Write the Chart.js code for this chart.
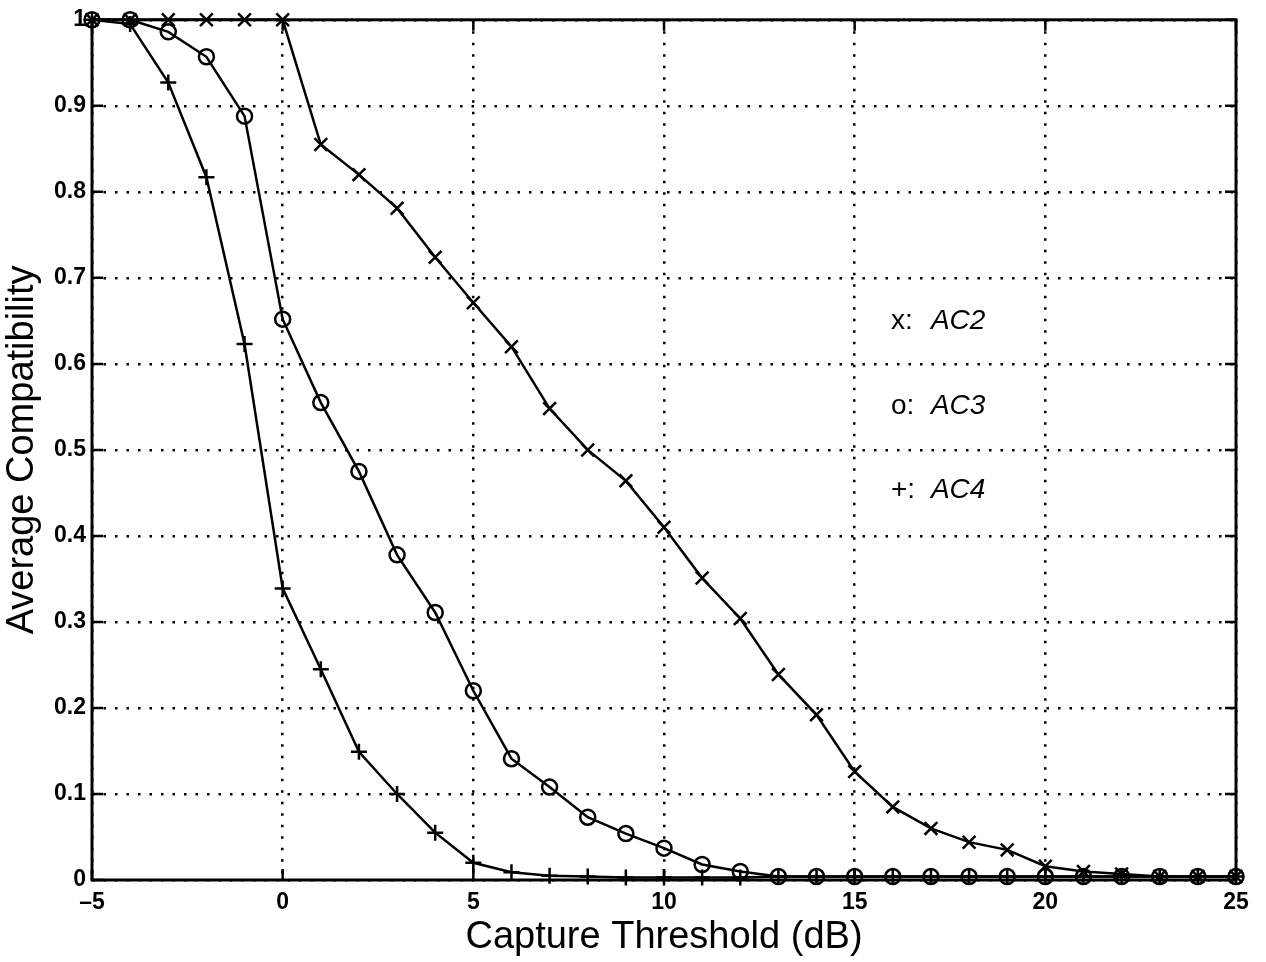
<!DOCTYPE html>
<html>
<head>
<meta charset="utf-8">
<script src="https://cdn.jsdelivr.net/npm/chart.js@4.4.1/dist/chart.umd.min.js"></script>
<style>
  html, body { margin: 0; padding: 0; background: #fff; }
  canvas { display: block; }
</style>
</head>
<body>
<canvas id="chart" width="1266" height="962"></canvas>
<script>
// capture threshold (dB)
const threshold = [-5, -4, -3, -2, -1, 0, 1, 2, 3, 4, 5, 6, 7, 8, 9, 10,
  11, 12, 13, 14, 15, 16, 17, 18, 19, 20, 21, 22, 23, 24, 25];

const ac2 = [1, 1, 1, 1, 1, 1, 0.855, 0.82, 0.781, 0.724, 0.671, 0.62, 0.548,
  0.5, 0.464, 0.41, 0.351, 0.304, 0.239, 0.192, 0.126, 0.085, 0.06, 0.044,
  0.035, 0.016, 0.01, 0.007, 0.004, 0.004, 0.004];

const ac3 = [1, 1, 0.986, 0.957, 0.888, 0.652, 0.555, 0.475, 0.378, 0.311,
  0.22, 0.141, 0.108, 0.073, 0.054, 0.037, 0.018, 0.01, 0.004, 0.004, 0.004,
  0.004, 0.004, 0.004, 0.004, 0.004, 0.004, 0.004, 0.004, 0.004, 0.004];

const ac4 = [1, 0.995, 0.927, 0.817, 0.623, 0.339, 0.245, 0.149, 0.1, 0.055,
  0.02, 0.009, 0.005, 0.004, 0.003, 0.003, 0.003, 0.003, 0.004, 0.004, 0.004,
  0.004, 0.004, 0.004, 0.004, 0.004, 0.004, 0.004, 0.004, 0.004, 0.004];

const xTicks = [-5, 0, 5, 10, 15, 20, 25];
const legendMarks = ['x:', 'o:', '+:'];
const legendNames = ['AC2', 'AC3', 'AC4'];

const FONT = "'Liberation Sans', Arial, Helvetica, sans-serif";

function pts(ys) {
  return threshold.map((x, i) => ({ x: x, y: ys[i] }));
}

// frame + inward tick marks, matlab style
const framePlugin = {
  id: 'frame',
  beforeDatasetsDraw(chart) {
    const { ctx, chartArea: a, scales: { x, y } } = chart;
    ctx.save();
    ctx.strokeStyle = '#000';
    ctx.lineWidth = 3;
    ctx.strokeRect(a.left, a.top, a.right - a.left, a.bottom - a.top);
    ctx.lineWidth = 2.5;
    ctx.beginPath();
    x.ticks.forEach(t => {
      const px = x.getPixelForValue(t.value);
      ctx.moveTo(px, a.bottom); ctx.lineTo(px, a.bottom - 11);
      ctx.moveTo(px, a.top); ctx.lineTo(px, a.top + 11);
    });
    y.ticks.forEach(t => {
      const py = y.getPixelForValue(t.value);
      ctx.moveTo(a.left, py); ctx.lineTo(a.left + 11, py);
      ctx.moveTo(a.right, py); ctx.lineTo(a.right - 11, py);
    });
    ctx.stroke();
    ctx.restore();
  },
  afterDraw(chart) {
    const { ctx, scales: { x, y } } = chart;
    const rows = [0.65, 0.551, 0.453]; // label rows, in axis units
    ctx.save();
    ctx.fillStyle = '#000';
    ctx.textBaseline = 'middle';
    legendMarks.forEach((m, i) => {
      const px = x.getPixelForValue(15.95);
      const py = y.getPixelForValue(rows[i]);
      ctx.font = '28px ' + FONT;
      ctx.fillText(m, px, py);
      ctx.font = 'italic 28px ' + FONT;
      ctx.fillText(legendNames[i], px + 40, py);
    });
    ctx.restore();
  }
};

const ctx = document.getElementById('chart').getContext('2d');

const common = {
  borderColor: '#000',
  borderWidth: 2.5,
  pointBorderColor: '#000',
  pointBackgroundColor: 'rgba(0,0,0,0)',
  pointBorderWidth: 2.5,
  tension: 0,
  clip: false
};

const chart = new Chart(ctx, {
  type: 'line',
  data: {
    datasets: [
      Object.assign({ label: 'AC2', data: pts(ac2), pointStyle: 'crossRot', pointRadius: 9 }, common),
      Object.assign({ label: 'AC3', data: pts(ac3), pointStyle: 'circle', pointRadius: 7.5 }, common),
      Object.assign({ label: 'AC4', data: pts(ac4), pointStyle: 'cross', pointRadius: 8 }, common)
    ]
  },
  options: {
    responsive: false,
    animation: false,
    devicePixelRatio: 1,
    layout: { padding: { top: 14, right: 30, left: 0, bottom: 0 } },
    plugins: {
      legend: { display: false },
      tooltip: { enabled: false }
    },
    scales: {
      x: {
        type: 'linear',
        min: -5,
        max: 25,
        afterBuildTicks: s => { s.ticks = xTicks.map(v => ({ value: v })); },
        afterFit: s => { s.height = 82; },
        grid: { color: '#000', lineWidth: 2.5, drawTicks: false },
        border: { display: false, dash: [2.5, 9] },
        ticks: {
          color: '#000',
          padding: 9,
          font: { family: FONT, size: 23, weight: 'bold' },
          callback: v => (v < 0 ? '\u2013' + Math.abs(v) : String(v))
        },
        title: {
          display: true,
          text: 'Capture Threshold (dB)',
          color: '#000',
          font: { family: FONT, size: 38 },
          padding: { top: 0, bottom: 2 }
        }
      },
      y: {
        min: 0,
        max: 1,
        afterFit: s => { s.width = 92; },
        grid: { color: '#000', lineWidth: 2.5, drawTicks: false },
        border: { display: false, dash: [2.5, 9] },
        ticks: {
          stepSize: 0.1,
          color: '#000',
          padding: 6,
          font: { family: FONT, size: 23, weight: 'bold' },
          callback: v => String(Math.round(v * 10) / 10)
        },
        title: {
          display: true,
          text: 'Average Compatibility',
          color: '#000',
          font: { family: FONT, size: 38 },
          padding: { top: 0, bottom: 0 }
        }
      }
    }
  },
  plugins: [framePlugin]
});
</script>
</body>
</html>
